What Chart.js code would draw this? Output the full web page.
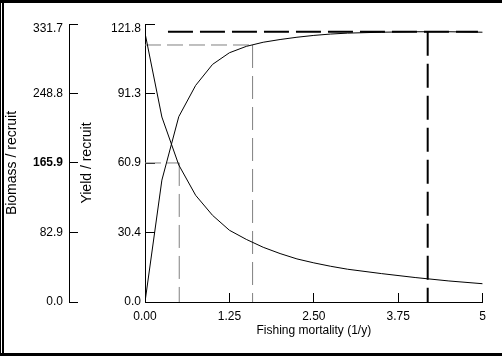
<!DOCTYPE html>
<html><head><meta charset="utf-8">
<script src="https://cdn.jsdelivr.net/npm/chart.js@4.4.0/dist/chart.umd.min.js"></script>
<style>
html,body{margin:0;padding:0;background:#fff;}
#wrap{position:relative;width:502px;height:356px;overflow:hidden;background:#fff;}
canvas{position:absolute;left:0;top:0;}
.b{position:absolute;background:#000;}
</style></head><body>
<div id="wrap">
<canvas id="c" width="502" height="356"></canvas>
<div class="b" style="left:0;top:0;width:502px;height:3px"></div>
<div class="b" style="left:0;top:353px;width:502px;height:3px"></div>
<div class="b" style="left:0;top:0;width:1px;height:356px"></div>
<div class="b" style="left:2px;top:0;width:2px;height:356px"></div>
</div>
<script>
// ---- data ----
const fishingMortality = [0, 0.25, 0.5, 0.75, 1, 1.25, 1.5, 1.75, 2, 2.25, 2.5, 2.75, 3, 3.5, 4, 4.5, 5];
const yieldPerRecruit  = [0, 53.4, 81.2, 94.9, 104.1, 109.2, 112.0, 113.8, 115.0, 116.0, 116.8, 117.4, 117.8, 118.2, 118.4, 118.4, 118.2];
const biomassPerRecruit = [321, 220.7, 163.5, 127.3, 103.4, 85.6, 74.7, 65.3, 57.8, 51.4, 46.7, 42.6, 39.1, 33.9, 29.2, 25.1, 21.8];

const xTicks = [0, 1.25, 2.5, 3.75, 5];
const xTickLabels = ["0.00", "1.25", "2.50", "3.75", "5"];
const yieldTicks = [0, 30.4, 60.9, 91.3, 121.8];
const yieldTickLabels = ["0.0", "30.4", "60.9", "91.3", "121.8"];
const biomassTicks = [0, 82.9, 165.9, 248.8, 331.7];
const biomassTickLabels = ["0.0", "82.9", "165.9", "248.8", "331.7"];

// reference points
const F01 = 1.593, Y01 = 112.6;      // gray dashed (yield)
const F50 = 0.507, B50 = 165.9;      // gray dashed (50% biomass)
const Fmax = 4.186, Ymax = 118.4;    // black dashed
const ymaxLineFrom = 0.34, ymaxLineTo = 4.93;

const FONT = "'Liberation Sans', Arial, sans-serif";
Chart.defaults.font.family = FONT;
Chart.defaults.color = '#000';

const pts = (xs, ys) => xs.map((x, i) => ({x, y: ys[i]}));
const lbl = (ticks, labels) => (v) => {
  const i = ticks.findIndex(t => Math.abs(t - v) < 1e-6);
  return i < 0 ? '' : labels[i];
};
const topShift = (ticks, labels) => (v) => {
  const s = lbl(ticks, labels)(v);
  return Math.abs(v - ticks[ticks.length - 1]) < 1e-6 ? ['', s] : s;
};

const line = (data, axis, color, width, dash) => ({
  data, yAxisID: axis, showLine: true, borderColor: color, borderWidth: width,
  borderDash: dash || [], pointRadius: 0, tension: 0, fill: false
});

new Chart(document.getElementById('c'), {
  type: 'scatter',
  data: {
    datasets: [
      line(pts(fishingMortality, yieldPerRecruit), 'yYield', '#000', 1),
      line(pts(fishingMortality, biomassPerRecruit), 'yBio', '#000', 1),
      line([{x: 0, y: Y01}, {x: F01, y: Y01}], 'yYield', '#808080', 1, [16, 6]),
      line([{x: F01, y: Y01}, {x: F01, y: 0}], 'yYield', '#808080', 1, [23, 8]),
      line([{x: 0, y: B50}, {x: F50, y: B50}], 'yBio', '#808080', 1, [16, 6]),
      line([{x: F50, y: B50}, {x: F50, y: 0}], 'yBio', '#808080', 1, [23, 8]),
      line([{x: ymaxLineFrom, y: Ymax}, {x: ymaxLineTo, y: Ymax}], 'yYield', '#000', 2, [25, 7]),
      line([{x: Fmax, y: Ymax}, {x: Fmax, y: 0}], 'yYield', '#000', 2, [24, 8])
    ]
  },
  options: {
    responsive: false,
    animation: false,
    devicePixelRatio: 1,
    layout: {padding: {left: 0, right: 7, top: 17, bottom: 18}},
    plugins: {legend: {display: false}, tooltip: {enabled: false}},
    scales: {
      x: {
        type: 'linear', position: 'bottom', min: 0, max: 5,
        afterBuildTicks: s => { s.ticks = xTicks.map(v => ({value: v})); },
        afterFit: s => { s.height = 36; },
        ticks: {callback: lbl(xTicks, xTickLabels), autoSkip: false, maxRotation: 0,
                padding: 16, color: '#000', font: {size: 12}},
        grid: {drawOnChartArea: false, tickLength: -9, color: '#000', tickWidth: 1},
        border: {display: true, color: '#000', width: 1},
        title: {display: true, text: 'Fishing mortality (1/y)', color: '#000',
                font: {size: 12}, padding: {top: 0, bottom: 0}}
      },
      yYield: {
        type: 'linear', position: 'left', weight: 0, min: 0, max: 121.8,
        afterBuildTicks: s => { s.ticks = yieldTicks.map(v => ({value: v})); },
        afterFit: s => { s.width = 76; },
        ticks: {callback: topShift(yieldTicks, yieldTickLabels), autoSkip: false, padding: 14, color: '#000',
                font: ctx => ({size: 12, lineHeight: ctx.index === yieldTicks.length - 1 ? 0.75 : 1.2})},
        grid: {drawOnChartArea: false, tickLength: -10, color: '#000', tickWidth: 1},
        border: {display: true, color: '#000', width: 1},
        title: {display: true, text: 'Yield / recruit', color: '#000',
                font: {size: 14}, padding: {top: 9.6, bottom: 0}}
      },
      yBio: {
        type: 'linear', position: 'left', weight: 1, min: 0, max: 331.7,
        afterBuildTicks: s => { s.ticks = biomassTicks.map(v => ({value: v})); },
        afterFit: s => { s.width = 69; },
        ticks: {callback: topShift(biomassTicks, biomassTickLabels), autoSkip: false, padding: 15, color: '#000',
                font: ctx => ({size: 12, weight: ctx.index === 2 ? 'bold' : 'normal',
                               lineHeight: ctx.index === biomassTicks.length - 1 ? 0.75 : 1.2})},
        grid: {drawOnChartArea: false, tickLength: -9, color: '#000', tickWidth: 1},
        border: {display: true, color: '#000', width: 1},
        title: {display: true, text: 'Biomass / recruit', color: '#000',
                font: {size: 14}, padding: {top: 4.2, bottom: 0}}
      }
    }
  }
});
</script>
</body></html>
